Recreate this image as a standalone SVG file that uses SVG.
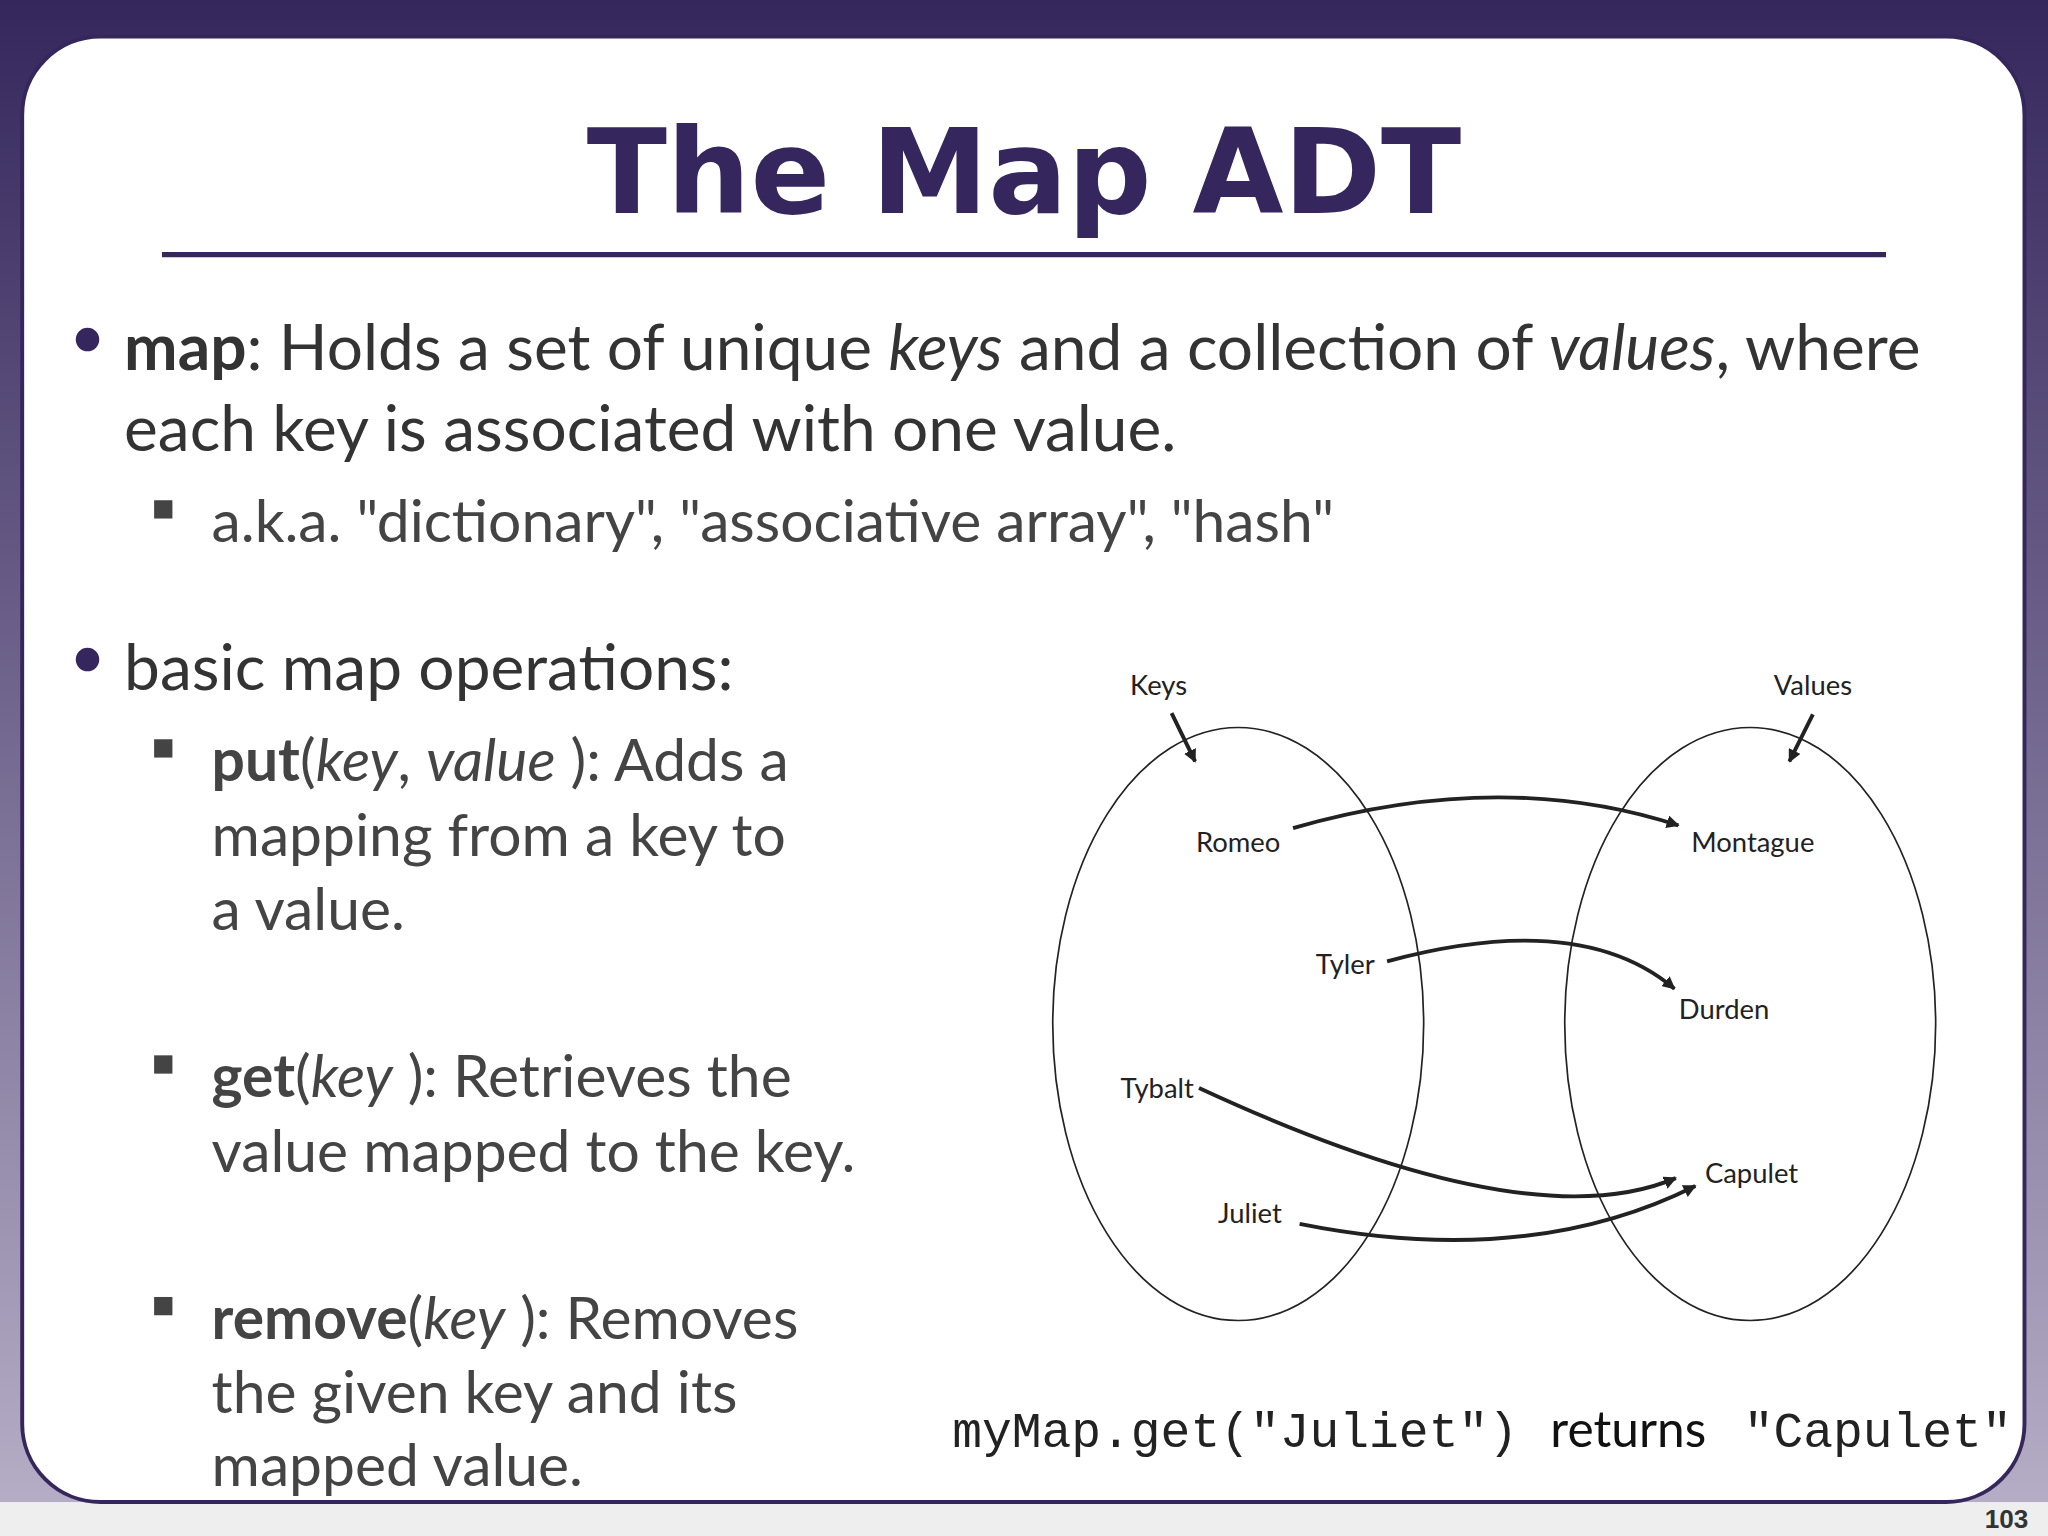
<svg xmlns="http://www.w3.org/2000/svg" width="2048" height="1536" viewBox="0 0 2048 1536">
<defs>
<linearGradient id="bg" x1="0" y1="0" x2="0" y2="1"><stop offset="0" stop-color="#35275c"/><stop offset="1" stop-color="#b8b0c8"/></linearGradient>
<marker id="ah" viewBox="0 0 10 10" refX="9" refY="5" markerWidth="10" markerHeight="10" orient="auto" markerUnits="userSpaceOnUse"><path d="M0,0 L10,5 L0,10 z" fill="#222"/></marker>
<style>
.t{font-family:Lato,"Liberation Sans",sans-serif;fill:#333}
.b1{font-size:49px}
.b2{font-size:45px;fill:#444}
.d{font-family:Lato,"Noto Sans",sans-serif;font-size:21px;fill:#222;text-anchor:middle}
.m{font-family:"Liberation Mono",monospace;font-size:38px;fill:#222}
.c{fill:none;stroke:#222;stroke-width:3}
.e{fill:none;stroke:#222;stroke-width:1.3}
.sq{fill:#444}
</style>
</defs>
<g transform="scale(1.30612)">
<rect x="0" y="0" width="1568" height="1176" fill="url(#bg)"/>
<rect x="0" y="1150" width="1568" height="26" fill="#eeeeee"/>
<rect x="17" y="28" width="1533" height="1122" rx="60" fill="#fff" stroke="#35275c" stroke-width="3"/>
<g id="title">
<text x="784" y="163" text-anchor="middle" font-family="'DejaVu Sans',sans-serif" font-weight="bold" font-size="90" fill="#35275e">The Map ADT</text>
<line x1="124" y1="195" x2="1444" y2="195" stroke="#35275e" stroke-width="4"/>
</g>
<g id="bullets">
<circle cx="67" cy="260" r="9" fill="#35275e"/>
<text class="t b1" x="95" y="283"><tspan font-weight="bold">map</tspan>: Holds a set of unique <tspan font-style="italic">keys</tspan> and a collection of <tspan font-style="italic">values</tspan>, where</text>
<text class="t b1" x="95" y="345">each key is associated with one value.</text>
<rect class="sq" x="118" y="383" width="14" height="14"/>
<text class="t b2" x="162" y="415">a.k.a. "dictionary", "associative array", "hash"</text>
<circle cx="67" cy="505" r="9" fill="#35275e"/>
<text class="t b1" x="95" y="528">basic map operations:</text>
<rect class="sq" x="118" y="566" width="14" height="14"/>
<text class="t b2" x="162" y="598"><tspan font-weight="bold">put</tspan>(<tspan font-style="italic">key</tspan>, <tspan font-style="italic">value</tspan> ): Adds a</text>
<text class="t b2" x="162" y="655">mapping from a key to</text>
<text class="t b2" x="162" y="712">a value.</text>
<rect class="sq" x="118" y="808" width="14" height="14"/>
<text class="t b2" x="162" y="840"><tspan font-weight="bold">get</tspan>(<tspan font-style="italic">key</tspan> ): Retrieves the</text>
<text class="t b2" x="162" y="897">value mapped to the key.</text>
<rect class="sq" x="118" y="993" width="14" height="14"/>
<text class="t b2" x="162" y="1025"><tspan font-weight="bold">remove</tspan>(<tspan font-style="italic">key</tspan> ): Removes</text>
<text class="t b2" x="162" y="1082">the given key and its</text>
<text class="t b2" x="162" y="1138">mapped value.</text>
</g>
<g id="keys"><ellipse class="e" cx="948" cy="784" rx="142" ry="227"/><text class="d" x="887" y="532">Keys</text></g>
<g id="values"><ellipse class="e" cx="1340" cy="784" rx="142" ry="227"/><text class="d" x="1388" y="532">Values</text></g>
<g id="romeo"><text class="d" x="948" y="652">Romeo</text></g>
<g id="tyler"><text class="d" x="1030" y="746">Tyler</text></g>
<g id="tybalt"><text class="d" x="886" y="841">Tybalt</text></g>
<g id="juliet"><text class="d" x="957" y="936">Juliet</text></g>
<g id="montague"><text class="d" x="1342" y="652">Montague</text></g>
<g id="durden"><text class="d" x="1320" y="780">Durden</text></g>
<g id="capulet"><text class="d" x="1341" y="906">Capulet</text></g>
<g id="connectors">
<path class="c" d="M897,546 L915,583" marker-end="url(#ah)"/>
<path class="c" d="M1388,547 L1370,583" marker-end="url(#ah)"/>
<path class="c" d="M990,634 Q1150,588 1285,632" marker-end="url(#ah)"/>
<path class="c" d="M1062,736 Q1210,696 1282,757" marker-end="url(#ah)"/>
<path class="c" d="M918,833 Q1170,950 1283,902" marker-end="url(#ah)"/>
<path class="c" d="M995,937 Q1170,972 1298,908" marker-end="url(#ah)"/>
</g>
<g id="caption">
<text class="m" x="729" y="1108">myMap.get("Juliet")</text>
<text x="1187" y="1108" font-family="Lato,'Liberation Sans',sans-serif" font-size="38" fill="#111">returns</text>
<text class="m" x="1335" y="1108">"Capulet"</text>
</g>
<text x="1553" y="1170" text-anchor="end" font-family="'Liberation Sans',sans-serif" font-weight="bold" font-size="20" fill="#333">103</text>
</g>
</svg>
